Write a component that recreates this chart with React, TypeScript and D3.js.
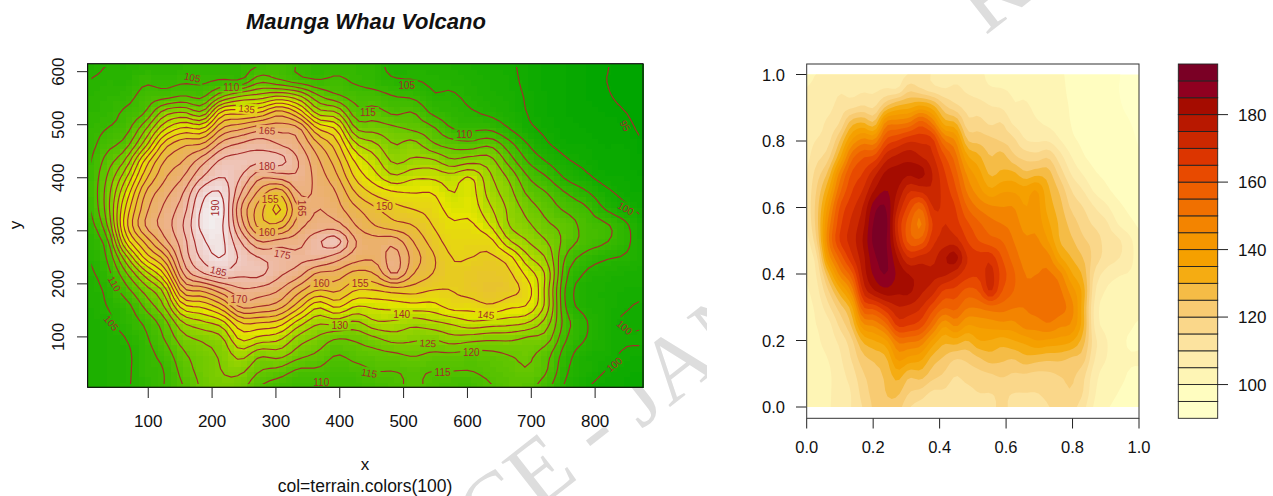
import React, { useEffect, useRef } from "react";
import * as d3 from "d3";

// elevation, one list per x position, north to south
const elevationByColumn = [
  [103,105,106,107,108,108,109,110,110,109,107,106,105,104,103,103,102,102,102,102,102],
  [105,106,107,108,110,113,117,120,122,122,119,113,110,108,106,105,104,103,103,103,103],
  [105,106,108,111,113,118,126,134,141,146,148,141,128,119,113,108,107,105,104,104,104.5],
  [106,109,112,115,124,133,146,153,160,163,165,156,146,132,122,116,111,109,108,108,107],
  [106,108,113,127,139,152,160,164,168,171,172,168,157,145,132,125,118,115,112,110,110],
  [107,109,115,130,146,159,165,170,175,178,180,178,176,170,158,143,130,123,119,117,115],
  [107,109,114,126,145,161,173,180,188,191,191.5,189,186,179,161,146,134,126,123,122,121],
  [108,110,124,146,160,172,181,185,190,192,191,191,190,183,168,153,138,129,126,125,124],
  [108,110,130,148,164,176,182,180,175,170,173,180,184,181,174,166,150,141,132,126,122],
  [109.5,118,132,150,168,178,181,171,163,157,158,170,180,181,173,165,150,138,126,120,115],
  [112,115,135,157,168,175,182,172,156,149,157,172,178,176,170,162,148,136,127,118,112],
  [109.5,112,131,149,166,171,175,174,170,165,168,173,176,172,162,152,138,128,122,114,110],
  [107,110,121,133,150,161,166,168,169,170,172,179,176,164,155,141,131,124,119,114,110],
  [108,111,116,130,144,152,157,161,165,167,172,182,172,163,156,146,132,120,115,112,110.5],
  [108,109,113,117,125,136,144,149,155,161,165,170,167,158,150,140,129,121,117,113,110],
  [107,107.5,112,117,123,131,137,142,149,156,160,167,166,160,150,141,134,124,118,115,112],
  [103,105.5,110,114,121,125,129,136,146,152,157,168,172,170,152,142,134,127,119,115,113.5],
  [104,105,109,115,119,127,131,139,145,150,155,160,163,160,152,143,132,126,120.5,116,116],
  [103.5,104.5,105.5,109,116,121,131,139,145,148,150,153,156,155,150,143,134,125,119,115,113.5],
  [103,104,105.5,107,110,118,126,137,140,143,146,148,150,151,150,147,136,128,119,115,112],
  [102,103,104,105.5,109,117,128,140,142,143,146,148,150,152,152,147,139,127,118,115,112],
  [101,102,102.5,104,109,119,127,131,133,136,140,147,151,153,154,149,138,126,118.5,116.5,114.5],
  [100.5,101,101.5,102.5,105,112,118,124,127,129,130,136,147,151,152,146,137,126,120,118,117],
  [99,99,99.5,99.8,101,105,109.5,115,119,123,126,130,136,143,147,144,135,124,121,119.5,116.5],
  [97.5,97.5,98,98,99,100.5,104.5,110,115,118,121,125,129,133,132,132,127,122,116.5,115,111.5],
  [97,97,97,97,97.5,98.5,100.5,104,110,114,118,118,114,111,108.5,109,112,110,107,105.5,104],
  [96,96,96,96.5,97,98,99,101,106,111,113,113,108,104.5,103,103.5,105.5,105,102.5,102.5,100.5],
  [95.5,95.2,95.5,96,96.5,97,97.5,98.5,101.5,105,111,110.5,105.5,103,102,102,102,102,101.5,100,98.5],
  [93,93,94,95.2,96.5,97,97.5,98,99,101.5,106.5,107,104.5,102,101,100.5,99.5,100.5,99.5,98.5,98],
  [92,92,92.5,93,94,95.5,96,97,98,99,101,101.5,102,101.5,101,99.5,99.5,100.5,99,98,97],
];

const contourLevels = d3.range(95, 195, 5);
const xTicks = [100, 200, 300, 400, 500, 600, 700, 800];
const yTicks = [100, 200, 300, 400, 500, 600];
const unitTicks = [0, 0.2, 0.4, 0.6, 0.8, 1];
const legendTicks = [100, 120, 140, 160, 180];
const fillLevels = d3.range(90, 200, 5);
const fillColors = [
  "#FFFFC8", "#FFFDC0", "#FEF5B5", "#FDECAC", "#FCE39F", "#FAD78A", "#F8CB72",
  "#F5BC46", "#F5AC12", "#F5A000", "#F49600", "#F38400", "#F07000", "#EE5F00",
  "#E84A00", "#DC3500", "#CB2800", "#B81800", "#A50C00", "#8F0020", "#7A0025",
];

// label value, data x, data y, rotation
const contourLabels: [number, number, number, number][] = [
  [105, 169, 589, 12], [110, 230, 571, 0], [135, 254, 530, 6], [165, 286, 489, 4],
  [180, 286, 421, 0], [190, 205, 343, -90], [155, 291, 360, 0], [165, 341, 343, 90],
  [105, 505, 575, 0], [115, 444, 523, 0], [110, 595, 481, 0], [150, 470, 346, 0],
  [95, 847, 498, 60], [100, 848, 342, 30], [160, 286, 297, 0], [175, 310, 256, 10],
  [185, 210, 224, 14], [170, 242, 170, 0], [160, 371, 200, 0], [155, 432, 200, 0],
  [130, 400, 122, 0], [110, 47, 200, 60], [105, 42, 126, 50], [110, 371, 15, 0],
  [115, 446, 32, 10], [140, 497, 142, 0], [125, 538, 88, 5], [120, 606, 71, 0],
  [115, 561, 33, 0], [145, 629, 142, 5], [100, 846, 118, 40], [100, 830, 48, -40],
];

// hsv -> css, d3 has no hsv colour space of its own
const hsv = (h: number, s: number, v: number) => {
  const c = v * s;
  const hh = h * 6;
  const x = c * (1 - Math.abs((hh % 2) - 1));
  const m = v - c;
  const seg = [[c, x, 0], [x, c, 0], [0, c, x], [0, x, c], [x, 0, c], [c, 0, x]][Math.floor(hh) % 6];
  return d3.rgb((seg[0] + m) * 255, (seg[1] + m) * 255, (seg[2] + m) * 255).formatHex();
};

// same recipe as R's terrain.colors(n)
const terrainColors = (n: number) => {
  const k = Math.floor(n / 2);
  const out: string[] = [];
  for (let i = 0; i < k; i++) {
    const t = i / (k - 1);
    out.push(hsv(4 / 12 - t * (2 / 12), 1, 0.65 + t * 0.25));
  }
  const m = n - k;
  for (let i = 1; i <= m; i++) {
    const t = i / m;
    out.push(hsv(2 / 12 - t * (2 / 12), 1 - t, 0.9 + t * 0.05));
  }
  return out;
};

const catmull = (p0: number, p1: number, p2: number, p3: number, t: number) =>
  0.5 * (2 * p1 + (p2 - p0) * t + (2 * p0 - 5 * p1 + 4 * p2 - p3) * t * t + (3 * p1 - p0 - 3 * p2 + p3) * t * t * t);

const clampIdx = (v: number, n: number) => Math.max(0, Math.min(n - 1, v));

// smooth lookup in the read-off lattice so the raster is not blocky
const sampleElevation = (a: number, b: number) => {
  const nc = elevationByColumn.length;
  const nr = elevationByColumn[0].length;
  const ai = Math.min(nc - 2, Math.max(0, Math.floor(a)));
  const bi = Math.min(nr - 2, Math.max(0, Math.floor(b)));
  const at = a - ai;
  const bt = b - bi;
  const rows: number[] = [];
  for (let dc = -1; dc <= 2; dc++) {
    const col = elevationByColumn[clampIdx(ai + dc, nc)];
    rows.push(
      catmull(col[clampIdx(bi - 1, nr)], col[clampIdx(bi, nr)], col[clampIdx(bi + 1, nr)], col[clampIdx(bi + 2, nr)], bt)
    );
  }
  return catmull(rows[0], rows[1], rows[2], rows[3], at);
};

const NX = 87;
const NY = 61;
const FONT = "'Liberation Sans', Arial, sans-serif";

// row 0 is the south edge, as in the data coordinates
const buildGrid = () => {
  const values = new Float64Array(NX * NY);
  for (let r = 0; r < NY; r++) {
    for (let c = 0; c < NX; c++) {
      const a = (10 * (c + 1) - 5) / 30;
      const b = 20 - (10 * (r + 1) - 5) / 30.5;
      values[r * NX + c] = sampleElevation(a, b);
    }
  }
  return values;
};

const App = () => {
  const svgRef = useRef(null);

  useEffect(() => {
    const svg = d3.select(svgRef.current);
    svg.selectAll("*").remove();
    const grid = buildGrid();

    // watermark first, everything else sits on top of it
    const wm = svg.append("g").attr("fill", "#dddddd").style("font-family", "'Liberation Serif', serif");
    wm.append("text").attr("transform", "translate(488,549) rotate(-38)").attr("font-size", 92).text("CE - JAN");
    wm.append("text").attr("transform", "translate(985,36) rotate(-38)").attr("font-size", 92).text("R");
    wm.append("rect").attr("x", 707).attr("y", 44).attr("width", 566).attr("height", 452).attr("fill", "#fff");

    // ---------- left panel ----------
    const x = d3.scaleLinear().domain([5, 875]).range([87.6, 643]);
    const y = d3.scaleLinear().domain([5, 615]).range([387.3, 63.7]);
    const palette = terrainColors(100);
    const colorOf = d3.scaleQuantize<string>().domain([94, 195]).range(palette);

    const raster = svg.append("g").attr("shape-rendering", "crispEdges");
    for (let r = 0; r < NY; r++) {
      for (let c = 0; c < NX; c++) {
        raster
          .append("rect")
          .attr("x", x(10 * c + 5))
          .attr("y", y(10 * r + 15))
          .attr("width", x(10 * c + 15) - x(10 * c + 5) + 0.6)
          .attr("height", y(10 * r + 5) - y(10 * r + 15) + 0.6)
          .attr("fill", colorOf(grid[r * NX + c]));
      }
    }

    const defs = svg.append("defs");
    defs
      .append("clipPath")
      .attr("id", "contourClip")
      .append("rect")
      .attr("x", x(11))
      .attr("y", y(609))
      .attr("width", x(869) - x(11))
      .attr("height", y(11) - y(609));

    const mask = defs.append("mask").attr("id", "labelGaps").attr("maskUnits", "userSpaceOnUse")
      .attr("x", 0).attr("y", 0).attr("width", 1273).attr("height", 496);
    mask.append("rect").attr("width", 1273).attr("height", 496).attr("fill", "#fff");
    contourLabels.forEach(([v, lx, ly, rot]) => {
      const w = String(v).length * 6 + 4;
      mask
        .append("rect")
        .attr("x", -w / 2)
        .attr("y", -5.5)
        .attr("width", w)
        .attr("height", 11)
        .attr("fill", "#000")
        .attr("transform", `translate(${x(lx)},${y(ly)}) rotate(${rot})`);
    });

    // grid coordinate g sits at data 10*(g+0.5)
    const gridPath = d3.geoPath(
      d3.geoTransform({
        point(px, py) {
          this.stream.point(x(10 * (px + 0.5)), y(10 * (py + 0.5)));
        },
      })
    );
    const lines = d3.contours().size([NX, NY]).thresholds(contourLevels)(Array.from(grid) as any);
    svg
      .append("g")
      .attr("clip-path", "url(#contourClip)")
      .append("g")
      .attr("mask", "url(#labelGaps)")
      .selectAll("path")
      .data(lines)
      .join("path")
      .attr("d", (d: any) => gridPath(d))
      .attr("fill", "none")
      .attr("stroke", "#a52a2a")
      .attr("stroke-width", 1.15);

    svg
      .append("g")
      .selectAll("text")
      .data(contourLabels)
      .join("text")
      .attr("transform", (d) => `translate(${x(d[1])},${y(d[2])}) rotate(${d[3]})`)
      .attr("text-anchor", "middle")
      .attr("dy", "0.36em")
      .attr("font-size", 10)
      .attr("fill", "#a52a2a")
      .style("font-family", FONT)
      .text((d) => d[0]);

    svg
      .append("rect")
      .attr("x", x(5))
      .attr("y", y(615))
      .attr("width", x(875) - x(5))
      .attr("height", y(5) - y(615))
      .attr("fill", "none")
      .attr("stroke", "#111")
      .attr("stroke-width", 1.2);

    const ticks = svg.append("g").attr("stroke", "#222").attr("stroke-width", 1);
    const labels = svg.append("g").attr("fill", "#111").style("font-family", FONT);
    xTicks.forEach((t) => {
      ticks.append("line").attr("x1", x(t)).attr("x2", x(t)).attr("y1", 387.3).attr("y2", 398);
      labels.append("text").attr("x", x(t)).attr("y", 427).attr("text-anchor", "middle").attr("font-size", 17).text(t);
    });
    yTicks.forEach((t) => {
      ticks.append("line").attr("x1", 77).attr("x2", 87.6).attr("y1", y(t)).attr("y2", y(t));
      labels
        .append("text")
        .attr("transform", `translate(64,${y(t)}) rotate(-90)`)
        .attr("text-anchor", "middle")
        .attr("font-size", 17)
        .text(t);
    });
    labels.append("text").attr("x", 365).attr("y", 470).attr("text-anchor", "middle").attr("font-size", 17).text("x");
    labels
      .append("text")
      .attr("x", 365)
      .attr("y", 492)
      .attr("text-anchor", "middle")
      .attr("font-size", 17.5)
      .text("col=terrain.colors(100)");
    labels
      .append("text")
      .attr("transform", "translate(21,225) rotate(-90)")
      .attr("text-anchor", "middle")
      .attr("font-size", 17)
      .text("y");
    labels
      .append("text")
      .attr("x", 366)
      .attr("y", 29)
      .attr("text-anchor", "middle")
      .attr("font-size", 22)
      .attr("font-weight", "bold")
      .attr("font-style", "italic")
      .text("Maunga Whau Volcano");

    // ---------- right panel ----------
    const u = d3.scaleLinear().domain([0, 1]).range([806.7, 1139]);
    const v = d3.scaleLinear().domain([0, 1]).range([407, 74.5]);
    defs
      .append("clipPath")
      .attr("id", "fillClip")
      .append("rect")
      .attr("x", u(0))
      .attr("y", v(1))
      .attr("width", u(1) - u(0))
      .attr("height", v(0) - v(1));

    const fillPath = d3.geoPath(
      d3.geoTransform({
        point(px, py) {
          this.stream.point(u((px - 0.5) / (NX - 1)), v((py - 0.5) / (NY - 1)));
        },
      })
    );
    const bands = d3.contours().size([NX, NY]).thresholds(fillLevels.slice(0, -1))(Array.from(grid) as any);
    svg
      .append("g")
      .attr("clip-path", "url(#fillClip)")
      .selectAll("path")
      .data(bands)
      .join("path")
      .attr("d", (d: any) => fillPath(d))
      .attr("fill", (_d, i) => fillColors[i]);

    svg
      .append("rect")
      .attr("x", u(0))
      .attr("y", 64)
      .attr("width", u(1) - u(0))
      .attr("height", 354.3)
      .attr("fill", "none")
      .attr("stroke", "#333")
      .attr("stroke-width", 1);

    unitTicks.forEach((t) => {
      ticks.append("line").attr("x1", u(t)).attr("x2", u(t)).attr("y1", 418.3).attr("y2", 428.5);
      ticks.append("line").attr("x1", 796).attr("x2", 806.7).attr("y1", v(t)).attr("y2", v(t));
      labels.append("text").attr("x", u(t)).attr("y", 453).attr("text-anchor", "middle").attr("font-size", 16.5).text(t.toFixed(1));
      labels.append("text").attr("x", 785).attr("y", v(t) + 6).attr("text-anchor", "end").attr("font-size", 16.5).text(t.toFixed(1));
    });

    // ---------- colour key ----------
    const key = d3.scaleLinear().domain([90, 195]).range([418.3, 64]);
    svg
      .append("g")
      .selectAll("rect")
      .data(fillColors)
      .join("rect")
      .attr("x", 1178.3)
      .attr("width", 39.4)
      .attr("y", (_d, i) => key(fillLevels[i + 1]))
      .attr("height", (_d, i) => key(fillLevels[i]) - key(fillLevels[i + 1]))
      .attr("fill", (d) => d)
      .attr("stroke", "#222")
      .attr("stroke-width", 0.9);
    legendTicks.forEach((t) => {
      ticks.append("line").attr("x1", 1217.7).attr("x2", 1228).attr("y1", key(t)).attr("y2", key(t));
      labels.append("text").attr("x", 1238).attr("y", key(t) + 6).attr("font-size", 17).text(t);
    });
  }, []);

  return (
    <svg
      ref={svgRef}
      width={1273}
      height={496}
      style={{ position: "absolute", left: 0, top: 0, background: "#fff" }}
    ></svg>
  );
};

export default App;
